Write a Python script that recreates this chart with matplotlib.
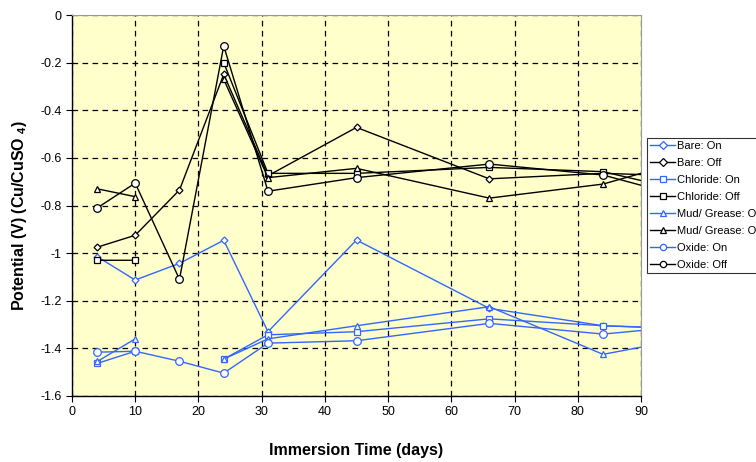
import numpy as np
import matplotlib
matplotlib.use("Agg")
import matplotlib.pyplot as plt

plt.rcParams['font.family'] = ['Liberation Sans', 'DejaVu Sans']
plt.rcParams['mathtext.fontset'] = 'custom'
plt.rcParams['mathtext.rm'] = 'Liberation Sans'
plt.rcParams['mathtext.bf'] = 'Liberation Sans:bold'

# immersion days (last point lies at the right edge)
dias = [4, 10, 17, 24, 31, 45, 66, 84, 90]
nan = np.nan

# potentials (V), NaN = no reading
bare_on = [-1.015, -1.113, -1.043, -0.946, -1.33, -0.945, -1.232, -1.305, -1.31]
bare_off = [-0.975, -0.925, -0.735, -0.249, -0.675, -0.472, -0.688, -0.665, -0.67]
chloride_on = [-1.463, -1.412, nan, -1.445, -1.343, -1.33, -1.276, -1.305, -1.311]
chloride_off = [-1.03, -1.03, nan, -0.20, -0.665, -0.665, -0.64, -0.658, -0.695]
mud_on = [-1.455, -1.36, nan, -1.445, -1.36, -1.305, -1.225, -1.425, -1.395]
mud_off = [-0.73, -0.763, nan, -0.27, -0.683, -0.644, -0.769, -0.71, -0.665]
oxide_on = [-1.416, -1.412, -1.454, -1.504, -1.378, -1.368, -1.295, -1.34, -1.325]
oxide_off = [-0.81, -0.706, -1.11, -0.13, -0.74, -0.683, -0.626, -0.672, -0.715]

azul = '#3366FF'
series = [
    ('Bare: On', bare_on, azul, 'D', 3.5),
    ('Bare: Off', bare_off, 'black', 'D', 3.5),
    ('Chloride: On', chloride_on, azul, 's', 5),
    ('Chloride: Off', chloride_off, 'black', 's', 5),
    ('Mud/ Grease: On', mud_on, azul, '^', 5),
    ('Mud/ Grease: Off', mud_off, 'black', '^', 5),
    ('Oxide: On', oxide_on, azul, 'o', 5.5),
    ('Oxide: Off', oxide_off, 'black', 'o', 5.5),
]

fig = plt.figure(figsize=(7.56, 4.62), dpi=100)
ax = fig.add_axes([72/756, 1-396/462, (641-72)/756, (396-15)/462])
ax.set_facecolor('#FFFFCC')

for nome, valores, cor, marca, tam in series:
    ax.plot(dias, valores, color=cor, lw=1, marker=marca, markersize=tam,
            markerfacecolor='white', markeredgecolor=cor, markeredgewidth=0.9,
            markevery=list(range(len(dias) - 1)), label=nome)

ax.set_xlim(0, 90)
ax.set_ylim(-1.6, 0)
ax.set_xticks(range(0, 91, 10))
yt = np.round(np.arange(-1.6, 0.01, 0.2), 1)
ax.set_yticks(yt)
ax.set_yticklabels(['%g' % v if v != 0 else '0' for v in yt])
ax.tick_params(labelsize=9, length=4, direction='out', width=0.8)
ax.grid(True, color='black', linestyle=(0, (4.5, 3.5)), lw=0.9)

for lado in ['top', 'right']:
    ax.spines[lado].set_color('#999999')
for lado in ['left', 'bottom']:
    ax.spines[lado].set_linewidth(1)

ax.set_xlabel('Immersion Time (days)', fontsize=11.5, fontweight='bold', labelpad=18)
# y label placed by hand so it is centred like the original
fig.text(20/756, 1-215/462, r'Potential (V) (Cu/CuSO $_{\mathbf{4}}$)', fontsize=11.5,
         fontweight='bold', rotation=90, ha='center', va='center')

# legend sits partly outside the figure, as in the original
leg = fig.legend(loc='upper left', bbox_to_anchor=(647/756, 1-138/462),
                 fontsize=8, frameon=True, fancybox=False, edgecolor='black',
                 borderpad=0.3, labelspacing=0.62, handlelength=2.2,
                 handletextpad=0.2, borderaxespad=0)
leg.get_frame().set_linewidth(0.8)
for h in leg.legend_handles:
    h.set_markersize(4.5)

fig.savefig('out.png', dpi=100)
